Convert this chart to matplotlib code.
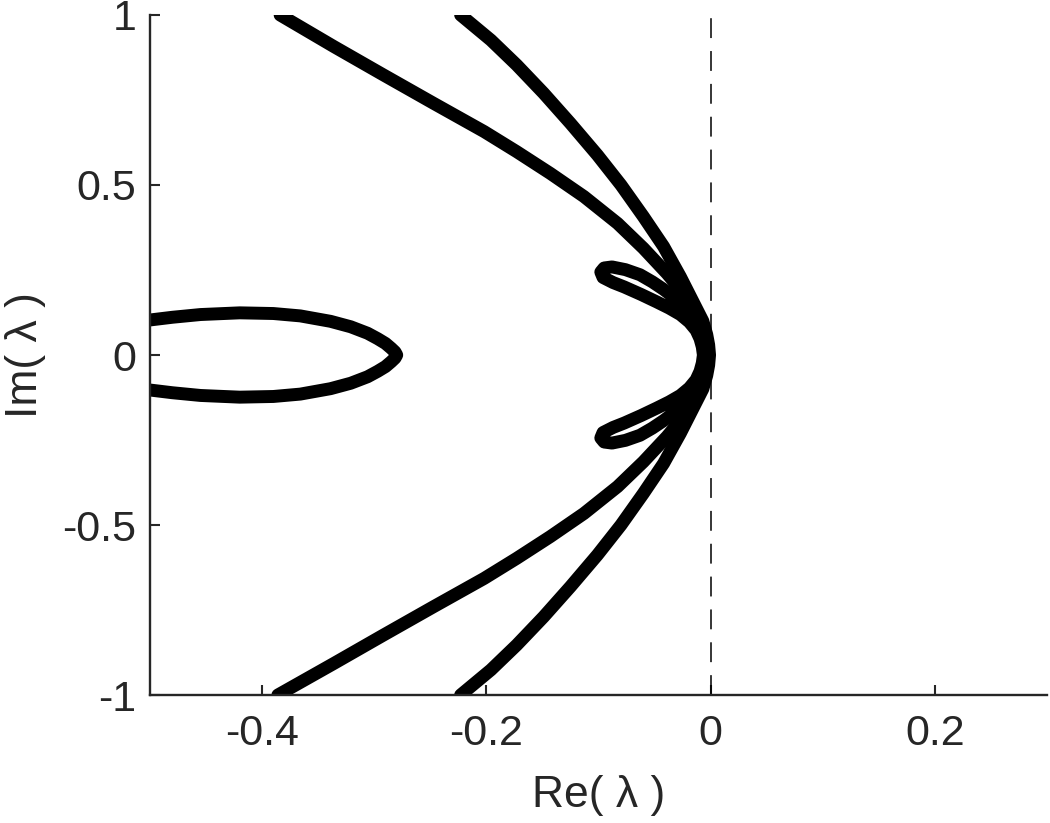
#!/usr/bin/env python3
# -*- coding: utf-8 -*-
"""
Eigenvalue loci in the complex plane (Re vs Im of lambda).
"""

import matplotlib
matplotlib.use('Agg')
import matplotlib.pyplot as plt

# outer branch (leftmost long arm), top end -> bottom end
re_a = [-0.384, -0.336, -0.292, -0.247, -0.202, -0.173, -0.143, -0.113, -0.083,
        -0.060, -0.039, -0.024, -0.012, -0.007, -0.0045, -0.0035,
        -0.0045, -0.007, -0.012, -0.024, -0.039, -0.060, -0.083, -0.113, -0.143,
        -0.173, -0.202, -0.247, -0.292, -0.336, -0.386]
im_a = [1.000, 0.907, 0.824, 0.740, 0.657, 0.598, 0.534, 0.466, 0.387,
        0.314, 0.240, 0.181, 0.123, 0.080, 0.040, 0.000,
        -0.040, -0.080, -0.123, -0.181, -0.240, -0.314, -0.387, -0.466, -0.534,
        -0.598, -0.657, -0.740, -0.824, -0.907, -1.000]

# inner branch (right long arm)
re_b = [-0.223, -0.196, -0.173, -0.149, -0.125, -0.101, -0.080, -0.060, -0.042,
        -0.027, -0.015, -0.007, -0.0035, -0.0018, -0.001,
        -0.0018, -0.0035, -0.007, -0.015, -0.027, -0.042, -0.060, -0.080,
        -0.101, -0.125, -0.149, -0.173, -0.196, -0.223]
im_b = [1.000, 0.926, 0.853, 0.770, 0.681, 0.588, 0.500, 0.407, 0.319,
        0.230, 0.152, 0.100, 0.060, 0.030, 0.000,
        -0.030, -0.060, -0.100, -0.152, -0.230, -0.319, -0.407, -0.500,
        -0.588, -0.681, -0.770, -0.853, -0.926, -1.000]

# small loops near the imaginary axis joined by the central arc
re_c = [-0.014, -0.020, -0.030, -0.042, -0.052, -0.063, -0.076, -0.088, -0.095,
        -0.098, -0.096, -0.087, -0.077, -0.062, -0.048, -0.037, -0.027,
        -0.019, -0.013, -0.0095, -0.0075, -0.0065,
        -0.0075, -0.0095, -0.013, -0.019, -0.027, -0.037, -0.048, -0.062,
        -0.077, -0.087, -0.096, -0.098, -0.095, -0.088, -0.076, -0.063,
        -0.052, -0.042, -0.030, -0.020, -0.014]
im_c = [0.105, 0.136, 0.163, 0.193, 0.215, 0.236, 0.251, 0.259, 0.256,
        0.244, 0.228, 0.213, 0.200, 0.178, 0.156, 0.138, 0.119,
        0.097, 0.073, 0.048, 0.024, 0.000,
        -0.024, -0.048, -0.073, -0.097, -0.119, -0.138, -0.156, -0.178,
        -0.200, -0.213, -0.228, -0.244, -0.256, -0.259, -0.251, -0.236,
        -0.215, -0.193, -0.163, -0.136, -0.105]

# closed oval on the left
re_d = [-0.510, -0.480, -0.455, -0.420, -0.390, -0.366, -0.339, -0.321, -0.306,
        -0.297, -0.290, -0.285, -0.2815, -0.280,
        -0.2815, -0.285, -0.290, -0.297, -0.306, -0.321, -0.339, -0.366,
        -0.390, -0.420, -0.455, -0.480, -0.510]
im_d = [0.099, 0.111, 0.119, 0.124, 0.122, 0.115, 0.099, 0.083, 0.064,
        0.048, 0.034, 0.020, 0.009, 0.000,
        -0.009, -0.020, -0.034, -0.048, -0.064, -0.083, -0.099, -0.115,
        -0.122, -0.124, -0.119, -0.111, -0.099]

x_ticks = [-0.4, -0.2, 0, 0.2]
x_tick_labels = ['-0.4', '-0.2', '0', '0.2']
y_ticks = [-1, -0.5, 0, 0.5, 1]
y_tick_labels = ['-1', '-0.5', '0', '0.5', '1']

plt.rcParams['font.family'] = ['Liberation Sans', 'DejaVu Sans']

fig = plt.figure(figsize=(10.5, 8.23), dpi=100)
ax = fig.add_axes([0.1429, 0.1555, 0.8543, 0.8263])

axis_col = '#262626'
lw_curve = 9.3
for re, im in [(re_d, im_d), (re_a, im_a), (re_b, im_b), (re_c, im_c)]:
    ax.plot(re, im, color='black', linewidth=lw_curve,
            solid_capstyle='round', solid_joinstyle='round')

# stability boundary
ax.plot([0, 0], [-1, 1], color='black', linewidth=1.1, dashes=(13, 8.5))

ax.set_xlim(-0.5, 0.3)
ax.set_ylim(-1, 1)
ax.set_xticks(x_ticks)
ax.set_xticklabels(x_tick_labels)
ax.set_yticks(y_ticks)
ax.set_yticklabels(y_tick_labels)

for side in ['top', 'right']:
    ax.spines[side].set_visible(False)
for side in ['left', 'bottom']:
    ax.spines[side].set_color(axis_col)
    ax.spines[side].set_linewidth(1.7)

ax.tick_params(direction='in', length=7, width=1.5, colors=axis_col,
               labelsize=31, labelcolor=axis_col)
ax.tick_params(axis='x', pad=14)
ax.tick_params(axis='y', pad=10)

ax.set_xlabel('Re( λ )', fontsize=32, color=axis_col)
ax.set_ylabel('Im( λ )', fontsize=32, color=axis_col)
ax.xaxis.set_label_coords(0.5, -0.117)
ax.yaxis.set_label_coords(-0.116, 0.5)

plt.savefig('out.png', dpi=100)
